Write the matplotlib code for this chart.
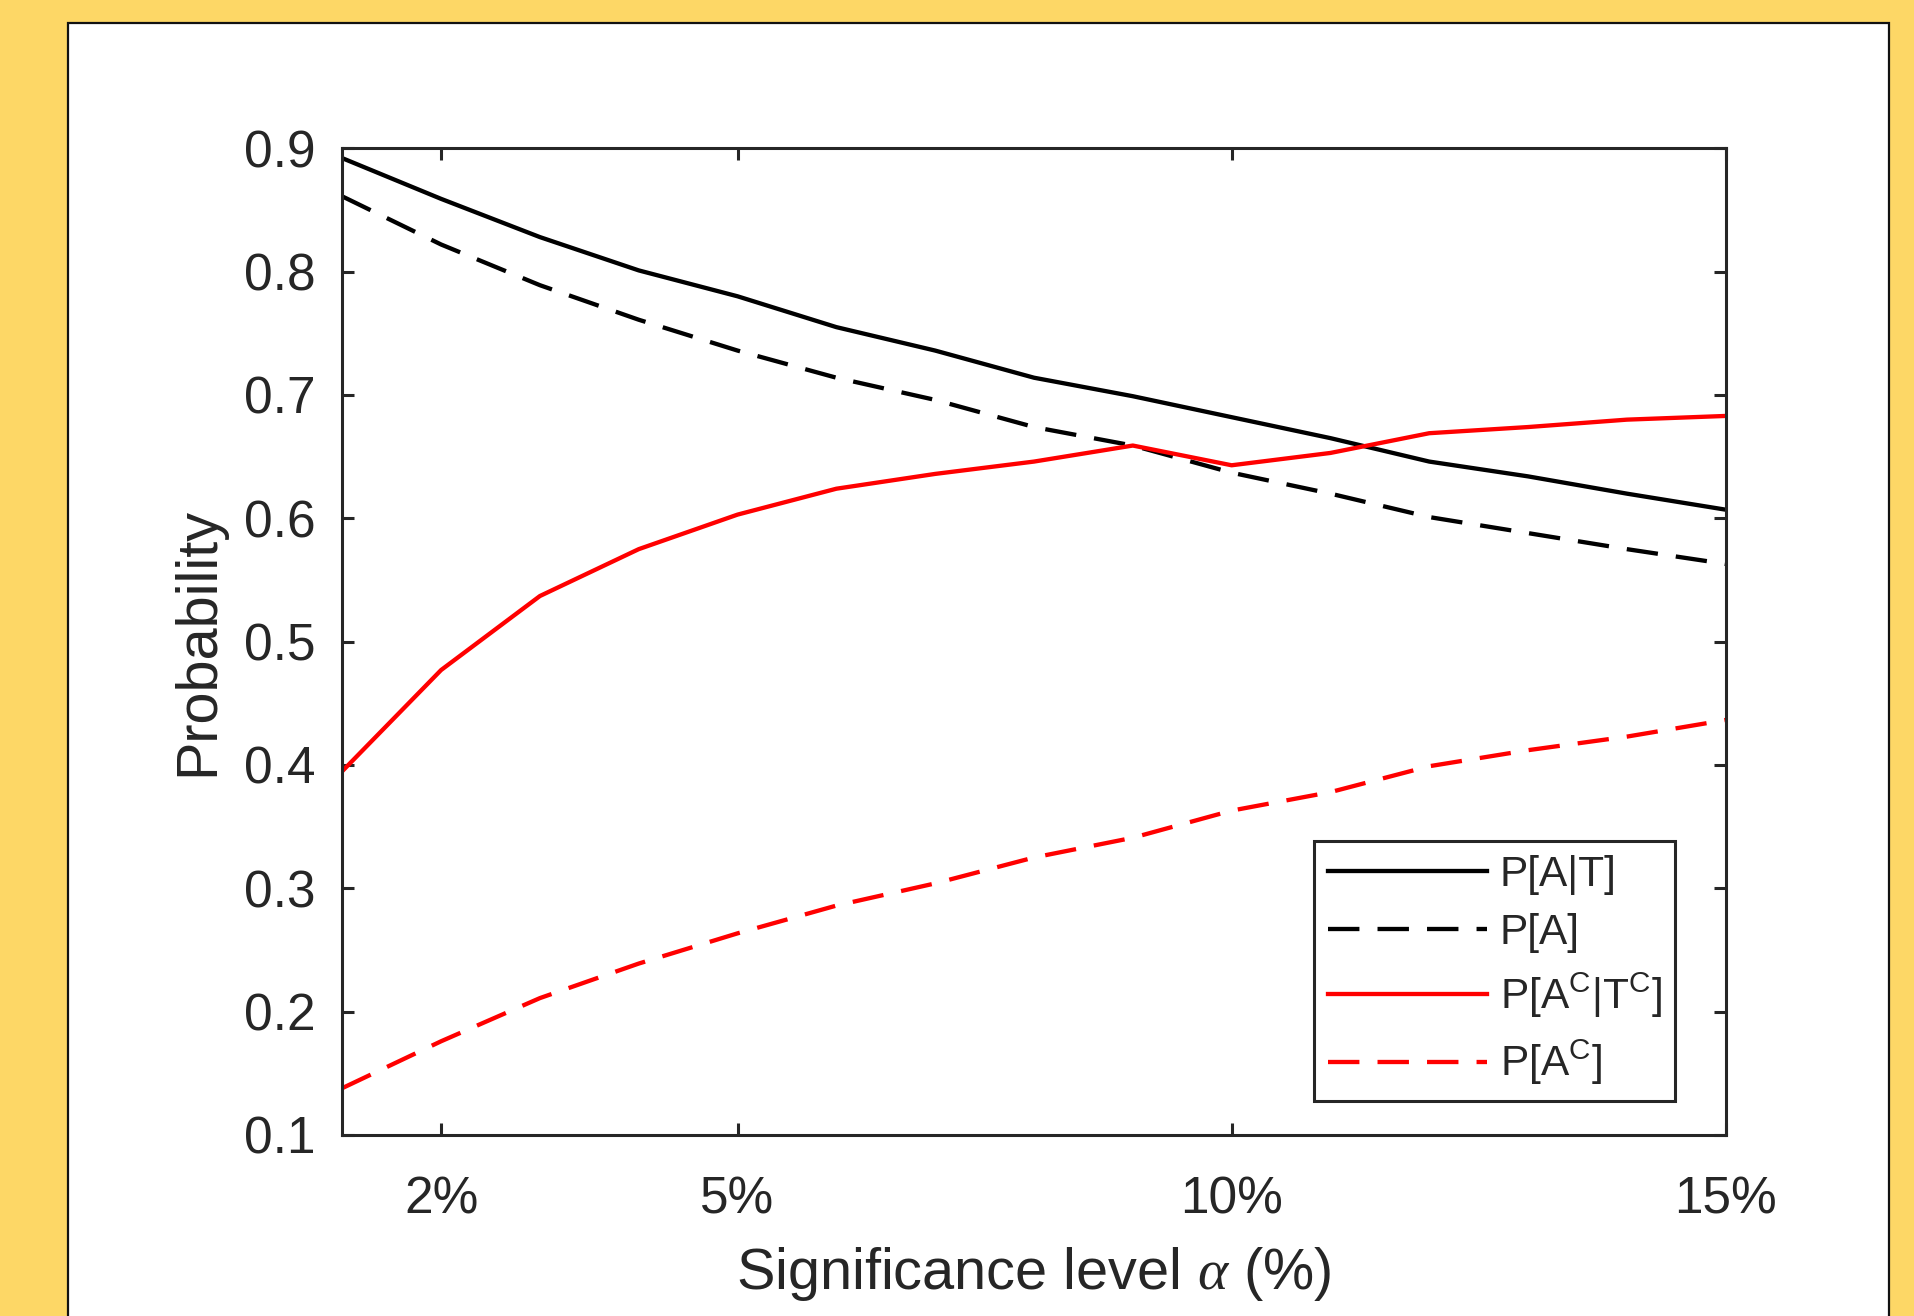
import matplotlib
matplotlib.use("Agg")
import matplotlib.pyplot as plt
from matplotlib.patches import Rectangle

# ---- data ----
alpha_pct = [1, 2, 3, 4, 5, 6, 7, 8, 9, 10, 11, 12, 13, 14, 15]
p_a_given_t = [0.892, 0.859, 0.828, 0.801, 0.780, 0.755, 0.736, 0.714, 0.699,
               0.682, 0.665, 0.646, 0.634, 0.620, 0.607]
p_a = [0.861, 0.822, 0.789, 0.761, 0.736, 0.714, 0.696, 0.674, 0.659,
       0.637, 0.620, 0.601, 0.588, 0.575, 0.563]
p_ac_given_tc = [0.395, 0.477, 0.537, 0.575, 0.603, 0.624, 0.636, 0.646, 0.659,
                 0.643, 0.653, 0.669, 0.674, 0.680, 0.683]
p_ac = [0.138, 0.176, 0.211, 0.239, 0.2635, 0.286, 0.304, 0.325, 0.341,
        0.363, 0.378, 0.399, 0.412, 0.423, 0.4365]

xticks = [2, 5, 10, 15]
xtick_labels = ["2%", "5%", "10%", "15%"]
yticks = [0.1, 0.2, 0.3, 0.4, 0.5, 0.6, 0.7, 0.8, 0.9]
ytick_labels = ["0.1", "0.2", "0.3", "0.4", "0.5", "0.6", "0.7", "0.8", "0.9"]
labels = ["P[A|T]", "P[A]", r"P[A$^{\mathrm{C}}$|T$^{\mathrm{C}}$]", r"P[A$^{\mathrm{C}}$]"]

# ---- style ----
plt.rcParams["font.family"] = ["Liberation Sans", "DejaVu Sans"]
plt.rcParams["mathtext.fontset"] = "custom"
plt.rcParams["mathtext.rm"] = "Liberation Sans"
plt.rcParams["mathtext.it"] = "Liberation Serif:italic"
plt.rcParams["mathtext.default"] = "regular"

W, H = 1914, 1316
fig = plt.figure(figsize=(W / 100, H / 100), dpi=100)
fig.patch.set_facecolor("#FDD766")

# white panel with dark border
panel = Rectangle((68 / W, -0.05), (1888.5 - 68) / W, (H - 23.3) / H + 0.05,
                  transform=fig.transFigure, facecolor="white",
                  edgecolor="#111111", linewidth=1.6, zorder=-10)
fig.patches.append(panel)

axc = "#262626"
ax_left, ax_right, ax_top, ax_bot = 342.3, 1725.7, 148.3, 1135.0
ax = fig.add_axes([ax_left / W, (H - ax_bot) / H,
                   (ax_right - ax_left) / W, (ax_bot - ax_top) / H])
ax.set_zorder(5)

lw = 3.1
dash = (7.3, 4.2)
ax.plot(alpha_pct, p_a_given_t, color="black", lw=lw, label=labels[0])
ax.plot(alpha_pct, p_a, color="black", lw=lw, dashes=dash, label=labels[1])
ax.plot(alpha_pct, p_ac_given_tc, color="red", lw=lw, label=labels[2])
ax.plot(alpha_pct, p_ac, color="red", lw=lw, dashes=dash, label=labels[3])

ax.set_xlim(1, 15)
ax.set_ylim(0.1, 0.9)
ax.set_xticks(xticks)
ax.set_xticklabels(xtick_labels)
ax.set_yticks(yticks)
ax.set_yticklabels(ytick_labels)

for s in ax.spines.values():
    s.set_linewidth(2.2)
    s.set_color(axc)

ax.tick_params(axis="both", which="both", direction="in", length=8.4, width=2.2,
               colors=axc, top=True, right=True, labelsize=37)
ax.tick_params(axis="x", pad=29)
ax.tick_params(axis="y", pad=19)

ax.set_xlabel(r"Significance level $\mathit{\alpha}$ (%)", fontsize=41.5, color=axc, labelpad=15)
ax.set_ylabel("Probability", fontsize=41.5, color=axc, labelpad=14)

leg = ax.legend(loc="upper left", bbox_to_anchor=(1314 / W, 1 - 841.3 / H),
                bbox_transform=fig.transFigure, fontsize=30.5, frameon=True,
                fancybox=False, framealpha=1, edgecolor=axc,
                handlelength=3.75, handletextpad=0.3, borderpad=0.33,
                labelspacing=0.42, borderaxespad=0)
leg.get_frame().set_linewidth(2.2)
for t in leg.get_texts():
    t.set_color(axc)

fig.savefig("out.png", dpi=100, facecolor=fig.get_facecolor())
